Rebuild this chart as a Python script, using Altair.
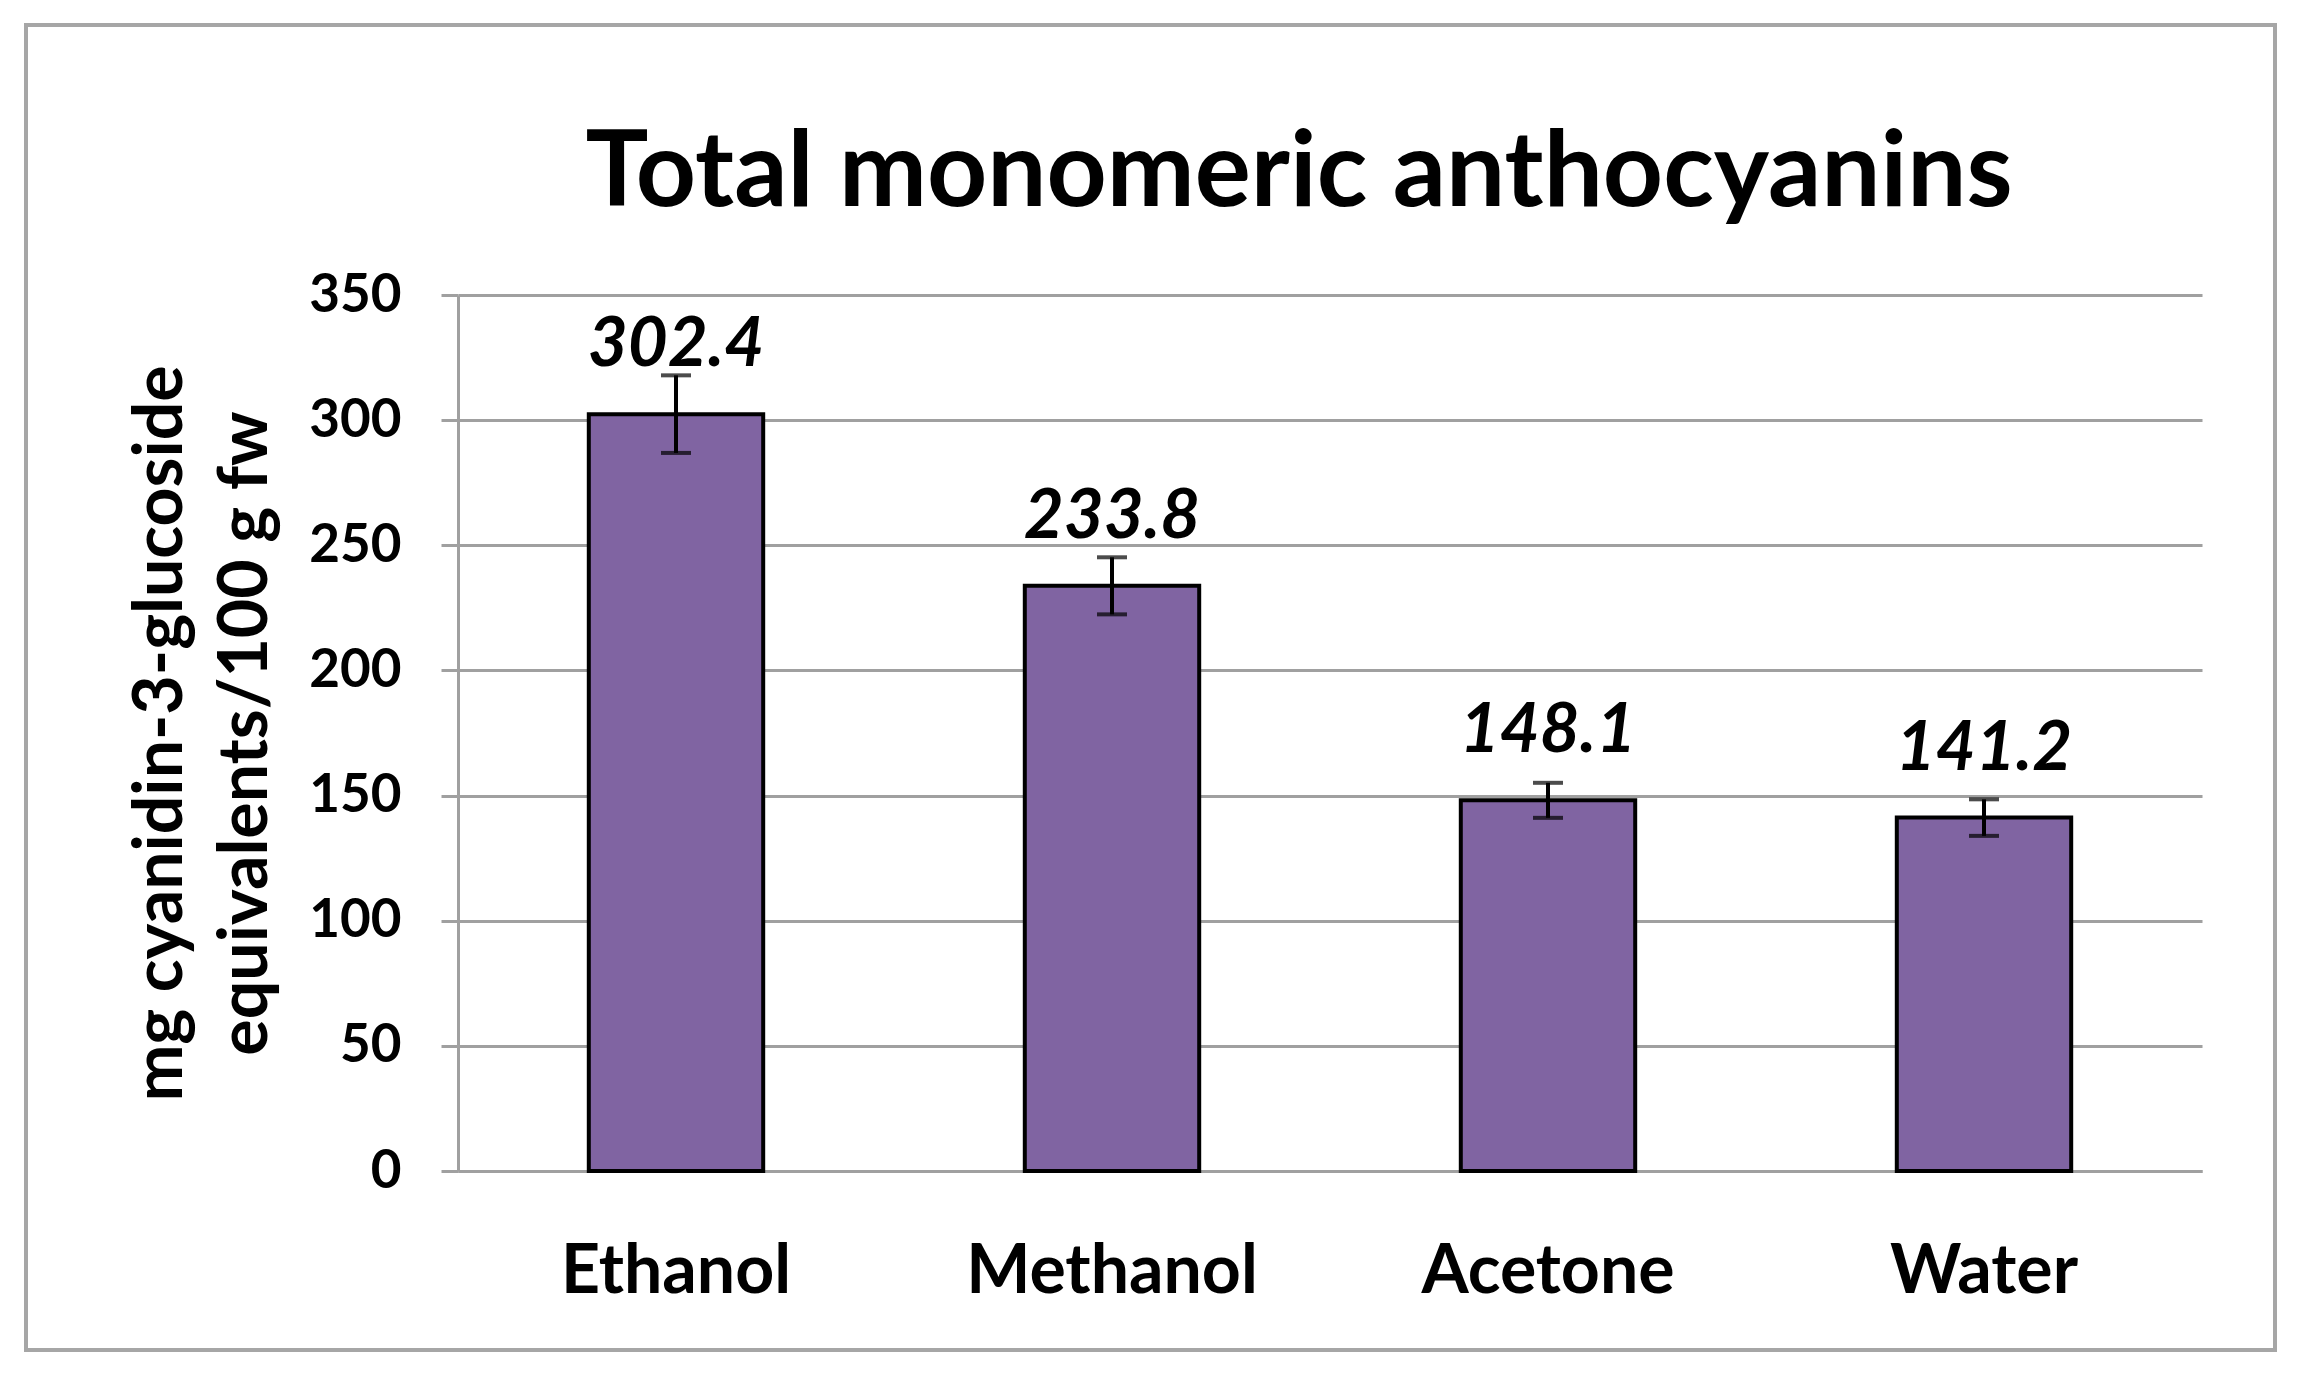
import altair as alt
import pandas as pd

categories = ["Ethanol", "Methanol", "Acetone", "Water"]
values = [302.4, 233.8, 148.1, 141.2]
errors = [15.5, 11.4, 7.0, 7.3]
labels = ["302.4", "233.8", "148.1", "141.2"]
title_text = "Total monomeric anthocyanins"
y_title = ["mg cyanidin-3-glucoside", "equivalents/100 g fw"]
y_ticks = [0, 50, 100, 150, 200, 250, 300, 350]

df = pd.DataFrame({
    "solvent": categories,
    "value": values,
    "lo": [v - e for v, e in zip(values, errors)],
    "hi": [v + e for v, e in zip(values, errors)],
    "label": labels,
})
tdf = pd.DataFrame({"t": [title_text]})

FONT = "Lato"
GRAY = "#A0A0A0"

x_axis = alt.Axis(title=None, labelAngle=0, labelFont=FONT, labelFontSize=68,
                  labelFontWeight="bold", labelColor="black", ticks=False, tickSize=0,
                  labelPadding=121, labelBaseline="alphabetic", labelLimit=1000,
                  domainColor=GRAY, domainWidth=3)
y_axis = alt.Axis(values=y_ticks, title=y_title, titleFont=FONT, titleFontSize=68,
                  titleFontWeight="bold", titleColor="black", titleAngle=-90,
                  titleAlign="center", titleBaseline="middle", titleLineHeight=85,
                  titleX=-297, titleY=438, titleLimit=2000,
                  labelFont=FONT, labelFontSize=53, labelFontWeight="bold",
                  labelColor="black", labelPadding=40, tickSize=17, tickColor=GRAY,
                  tickWidth=3, domainColor=GRAY, domainWidth=3,
                  grid=True, gridColor=GRAY, gridWidth=3)
xscale = alt.Scale(paddingInner=0.6, paddingOuter=0.3)
yscale = alt.Scale(domain=[0, 350])


def X():
    return alt.X("solvent:N", sort=categories, scale=xscale, axis=x_axis)


def Y(field):
    return alt.Y(field, scale=yscale, axis=y_axis)


bars = alt.Chart(df).mark_bar(color="#8064A2", stroke="black", strokeWidth=4).encode(
    x=X(), y=Y("value:Q"))

err = alt.Chart(df).mark_rule(color="black", strokeWidth=4).encode(
    x=X(), y=Y("lo:Q"), y2="hi:Q")
cap_lo = alt.Chart(df).mark_tick(color="black", thickness=4, size=30).encode(
    x=X(), y=Y("lo:Q"))
cap_hi = alt.Chart(df).mark_tick(color="black", thickness=4, size=30).encode(
    x=X(), y=Y("hi:Q"))
txt = alt.Chart(df).mark_text(font=FONT, fontSize=69, fontWeight="bold", fontStyle="italic",
                              color="black", baseline="alphabetic", dy=-48).encode(
    x=X(), y=Y("value:Q"), text="label:N")
title = alt.Chart(tdf).mark_text(font=FONT, fontSize=105, fontWeight="bold", color="black",
                                 baseline="alphabetic", align="center").encode(
    x=alt.value(841), y=alt.value(-89), text="t:N")
border = alt.Chart(tdf).mark_rect(fillOpacity=0, stroke="#A6A6A6", strokeWidth=4).encode(
    x=alt.value(-432), x2=alt.value(1817), y=alt.value(-270), y2=alt.value(1055))

chart = alt.layer(bars, err, cap_lo, cap_hi, txt, title, border).properties(
    width=1744, height=876,
    autosize=alt.AutoSizeParams(type="none"),
    padding={"left": 450, "top": 287, "right": 84, "bottom": 197},
    background="white",
).configure_view(strokeWidth=0)

chart.save("out.html", embed_options={"renderer": "svg", "actions": False})
